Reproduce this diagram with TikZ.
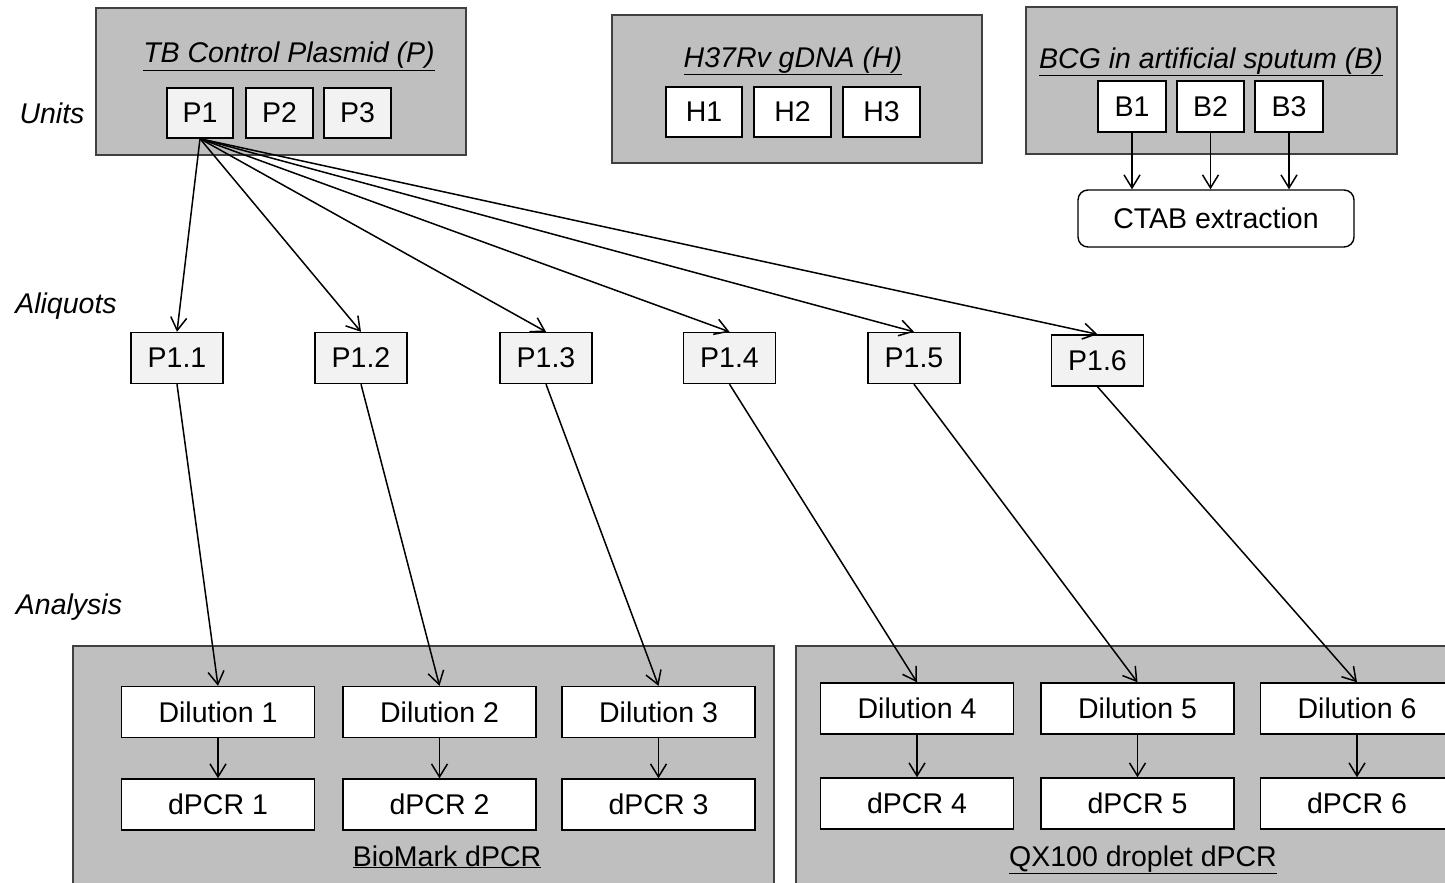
\documentclass[tikz,border=0pt]{standalone}
\usepackage{fontspec}
\setmainfont{Liberation Sans}
\usetikzlibrary{arrows.meta}
\definecolor{groupfill}{HTML}{BFBFBF}
\definecolor{groupline}{HTML}{404040}
\definecolor{aliquotfill}{HTML}{F2F2F2}
\tikzset{
  every node/.style={font=\fontsize{28.5}{34}\selectfont, inner sep=0pt},
  groupbox/.style={draw=groupline, fill=groupfill, line width=1.7pt},
  unitbox/.style={draw=black, fill=white, line width=1.4pt, minimum height=50pt},
  aliquotbox/.style={draw=black, fill=aliquotfill, line width=1.4pt,
    minimum width=92pt, minimum height=51pt},
  stepbox/.style={draw=black, fill=white, line width=1.4pt,
    minimum width=193pt, minimum height=51pt},
  rowlabel/.style={font=\fontsize{28.5}{34}\selectfont\itshape},
  flow/.style={-{Straight Barb[length=13pt,width=16pt]}, line width=1.5pt},
}
\begin{document}
\begin{tikzpicture}[x=1pt, y=-1pt]
\useasboundingbox (0,0) rectangle (1445,883);
\clip (0,0) rectangle (1445,883);

% ---- source materials ----
\node[groupbox, minimum width=370pt, minimum height=147pt] (Pbox) at (281,81.5) {};
\node[anchor=base] (Ptitle) at (289,63) {\itshape\underline{TB Control Plasmid (P)}};
\node[unitbox, fill=aliquotfill, minimum width=66pt] (P1) at (200,113) {P1};
\node[unitbox, fill=aliquotfill, minimum width=67pt] (P2) at (279.5,113) {P2};
\node[unitbox, fill=aliquotfill, minimum width=67pt] (P3) at (357.5,113) {P3};

\node[groupbox, minimum width=370pt, minimum height=148pt] (Hbox) at (797,89) {};
\node[anchor=base] (Htitle) at (793,67) {\itshape\underline{H37Rv gDNA (H)}};
\node[unitbox, minimum width=76pt] (H1) at (704,112) {H1};
\node[unitbox, minimum width=77pt] (H2) at (792.5,112) {H2};
\node[unitbox, minimum width=77pt] (H3) at (881.5,112) {H3};

\node[groupbox, minimum width=371pt, minimum height=147pt] (Bbox) at (1211.5,80.5) {};
\node[anchor=base] (Btitle) at (1211,68) {\itshape\underline{BCG in artificial sputum (B)}};
\node[unitbox, minimum width=68pt, minimum height=51pt] (B1) at (1132,106.5) {B1};
\node[unitbox, minimum width=67pt, minimum height=51pt] (B2) at (1210.5,106.5) {B2};
\node[unitbox, minimum width=68pt, minimum height=51pt] (B3) at (1289,106.5) {B3};

\node[draw=black, fill=white, line width=1.4pt, rounded corners=10pt,
  minimum width=276pt, minimum height=57pt] (CTAB) at (1216,218.5) {CTAB extraction};

\foreach \b in {B1,B2,B3}
  \draw[flow] (\b.south) -- (\b.south |- CTAB.north);

% ---- row labels ----
\node[rowlabel] (Lunits) at (52,113) {Units};
\node[rowlabel] (Laliquots) at (66,306) {Aliquots};
\node[rowlabel] (Lanalysis) at (69,607) {Analysis};

% ---- aliquots ----
\node[aliquotbox] (A1) at (177,358) {P1.1};
\node[aliquotbox] (A2) at (361,358) {P1.2};
\node[aliquotbox] (A3) at (546,358) {P1.3};
\node[aliquotbox] (A4) at (729.5,358) {P1.4};
\node[aliquotbox] (A5) at (914,358) {P1.5};
\node[aliquotbox] (A6) at (1097.5,360.5) {P1.6};

\foreach \a in {A1,A2,A3,A4,A5,A6}
  \draw[flow] (P1.south) -- (\a.north);

% ---- analysis platforms ----
\node[groupbox, minimum width=701pt, minimum height=260pt, anchor=north west] (BioMark) at (72,645) {};
\node[groupbox, minimum width=700pt, minimum height=260pt, anchor=north west] (QX) at (795,645) {};
\node[anchor=base] (BioMarkLabel) at (447,866) {\underline{BioMark dPCR}};
\node[anchor=base] (QXLabel) at (1143,866) {\underline{QX100 droplet dPCR}};

\node[stepbox] (D1) at (218,712) {Dilution 1};
\node[stepbox] (D2) at (439.5,712) {Dilution 2};
\node[stepbox] (D3) at (658.5,712) {Dilution 3};
\node[stepbox] (D4) at (917,708.5) {Dilution 4};
\node[stepbox] (D5) at (1137.5,708.5) {Dilution 5};
\node[stepbox] (D6) at (1357,708.5) {Dilution 6};

\node[stepbox] (R1) at (218,804.5) {dPCR 1};
\node[stepbox] (R2) at (439.5,804.5) {dPCR 2};
\node[stepbox] (R3) at (658.5,804.5) {dPCR 3};
\node[stepbox] (R4) at (917,803.5) {dPCR 4};
\node[stepbox] (R5) at (1137.5,803.5) {dPCR 5};
\node[stepbox] (R6) at (1357,803.5) {dPCR 6};

\foreach \i in {1,...,6} {
  \draw[flow] (A\i.south) -- (D\i.north);
  \draw[flow] (D\i.south) -- (R\i.north);
}
\end{tikzpicture}
\end{document}
